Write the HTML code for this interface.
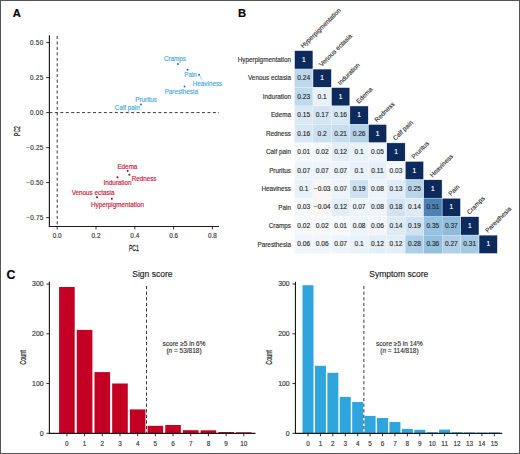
<!DOCTYPE html>
<html><head><meta charset="utf-8"><style>
html,body{margin:0;padding:0;background:#fff;}
body{width:520px;height:454px;overflow:hidden;}
svg{display:block;font-family:"Liberation Sans", sans-serif;}
</style></head><body>
<svg width="520" height="454" viewBox="0 0 520 454">
<rect x="0" y="0" width="520" height="454" fill="#ffffff"/>
<text x="12.80" y="17.00" font-size="11.2" fill="#000" stroke="#000" stroke-width="0.15" text-anchor="start" font-weight="bold">A</text>
<text x="238.00" y="17.00" font-size="11.2" fill="#000" stroke="#000" stroke-width="0.15" text-anchor="start" font-weight="bold">B</text>
<text x="6.50" y="279.10" font-size="12.4" fill="#000" stroke="#000" stroke-width="0.15" text-anchor="start" font-weight="bold">C</text>
<line x1="49.40" y1="35.20" x2="49.40" y2="226.95" stroke="#1a1a1a" stroke-width="1.15" />
<line x1="48.90" y1="226.45" x2="219.00" y2="226.45" stroke="#1a1a1a" stroke-width="1.15" />
<line x1="46.20" y1="42.60" x2="49.40" y2="42.60" stroke="#1a1a1a" stroke-width="0.9" />
<text x="43.20" y="44.80" font-size="6.4" fill="#333333" stroke="#333333" stroke-width="0.15" text-anchor="end" textLength="13.2">0.50</text>
<line x1="46.20" y1="77.60" x2="49.40" y2="77.60" stroke="#1a1a1a" stroke-width="0.9" />
<text x="43.20" y="79.80" font-size="6.4" fill="#333333" stroke="#333333" stroke-width="0.15" text-anchor="end" textLength="13.2">0.25</text>
<line x1="46.20" y1="112.60" x2="49.40" y2="112.60" stroke="#1a1a1a" stroke-width="0.9" />
<text x="43.20" y="114.80" font-size="6.4" fill="#333333" stroke="#333333" stroke-width="0.15" text-anchor="end" textLength="13.2">0.00</text>
<line x1="46.20" y1="147.60" x2="49.40" y2="147.60" stroke="#1a1a1a" stroke-width="0.9" />
<text x="43.20" y="149.80" font-size="6.4" fill="#333333" stroke="#333333" stroke-width="0.15" text-anchor="end" textLength="17.0">−0.25</text>
<line x1="46.20" y1="182.60" x2="49.40" y2="182.60" stroke="#1a1a1a" stroke-width="0.9" />
<text x="43.20" y="184.80" font-size="6.4" fill="#333333" stroke="#333333" stroke-width="0.15" text-anchor="end" textLength="17.0">−0.50</text>
<line x1="46.20" y1="217.60" x2="49.40" y2="217.60" stroke="#1a1a1a" stroke-width="0.9" />
<text x="43.20" y="219.80" font-size="6.4" fill="#333333" stroke="#333333" stroke-width="0.15" text-anchor="end" textLength="17.0">−0.75</text>
<line x1="57.20" y1="226.45" x2="57.20" y2="229.45" stroke="#1a1a1a" stroke-width="0.9" />
<text x="57.20" y="238.20" font-size="6.4" fill="#333333" stroke="#333333" stroke-width="0.15" text-anchor="middle" >0.0</text>
<line x1="96.00" y1="226.45" x2="96.00" y2="229.45" stroke="#1a1a1a" stroke-width="0.9" />
<text x="96.00" y="238.20" font-size="6.4" fill="#333333" stroke="#333333" stroke-width="0.15" text-anchor="middle" >0.2</text>
<line x1="134.80" y1="226.45" x2="134.80" y2="229.45" stroke="#1a1a1a" stroke-width="0.9" />
<text x="134.80" y="238.20" font-size="6.4" fill="#333333" stroke="#333333" stroke-width="0.15" text-anchor="middle" >0.4</text>
<line x1="173.60" y1="226.45" x2="173.60" y2="229.45" stroke="#1a1a1a" stroke-width="0.9" />
<text x="173.60" y="238.20" font-size="6.4" fill="#333333" stroke="#333333" stroke-width="0.15" text-anchor="middle" >0.6</text>
<line x1="212.40" y1="226.45" x2="212.40" y2="229.45" stroke="#1a1a1a" stroke-width="0.9" />
<text x="212.40" y="238.20" font-size="6.4" fill="#333333" stroke="#333333" stroke-width="0.15" text-anchor="middle" >0.8</text>
<line x1="57.20" y1="36.00" x2="57.20" y2="226.45" stroke="#222" stroke-width="0.9" stroke-dasharray="3.0 2.45"/>
<line x1="49.40" y1="112.60" x2="219.00" y2="112.60" stroke="#222" stroke-width="0.9" stroke-dasharray="3.0 2.45"/>
<text x="0" y="0" font-size="8.4" fill="#222" stroke="#222" stroke-width="0.25" text-anchor="middle" transform="translate(133.9 250.7) scale(0.6 1)">PC1</text>
<text x="0" y="0" font-size="8.4" fill="#222" stroke="#222" stroke-width="0.25" text-anchor="middle" transform="translate(19.9 131) rotate(-90) scale(0.6 1)">PC2</text>
<circle cx="177.90" cy="64.10" r="1.0" fill="#3a6a8c"/>
<circle cx="187.60" cy="69.70" r="1.0" fill="#3a6a8c"/>
<circle cx="199.00" cy="74.80" r="1.0" fill="#3a6a8c"/>
<circle cx="184.50" cy="86.40" r="1.0" fill="#3a6a8c"/>
<circle cx="141.00" cy="104.60" r="1.0" fill="#3a6a8c"/>
<line x1="199.30" y1="75.00" x2="201.90" y2="79.40" stroke="#45a8e0" stroke-width="0.6" />
<text x="175.00" y="61.00" font-size="6.3" fill="#45a8e0" stroke="#45a8e0" stroke-width="0.15" text-anchor="middle" >Cramps</text>
<text x="190.50" y="76.70" font-size="6.3" fill="#45a8e0" stroke="#45a8e0" stroke-width="0.15" text-anchor="middle" >Pain</text>
<text x="207.50" y="85.50" font-size="6.3" fill="#45a8e0" stroke="#45a8e0" stroke-width="0.15" text-anchor="middle" >Heaviness</text>
<text x="181.30" y="94.20" font-size="6.3" fill="#45a8e0" stroke="#45a8e0" stroke-width="0.15" text-anchor="middle" >Paresthesia</text>
<text x="146.10" y="101.60" font-size="6.3" fill="#45a8e0" stroke="#45a8e0" stroke-width="0.15" text-anchor="middle" >Pruritus</text>
<text x="127.30" y="109.70" font-size="6.3" fill="#45a8e0" stroke="#45a8e0" stroke-width="0.15" text-anchor="middle" >Calf pain</text>
<circle cx="127.70" cy="170.90" r="1.0" fill="#7a1028"/>
<circle cx="129.40" cy="174.70" r="1.0" fill="#7a1028"/>
<circle cx="117.50" cy="177.20" r="1.0" fill="#7a1028"/>
<circle cx="97.00" cy="197.30" r="1.0" fill="#7a1028"/>
<circle cx="111.80" cy="198.80" r="1.0" fill="#7a1028"/>
<text x="127.40" y="168.80" font-size="6.3" fill="#c8143a" stroke="#c8143a" stroke-width="0.15" text-anchor="middle" >Edema</text>
<text x="144.10" y="180.50" font-size="6.3" fill="#c8143a" stroke="#c8143a" stroke-width="0.15" text-anchor="middle" >Redness</text>
<text x="117.50" y="185.10" font-size="6.3" fill="#c8143a" stroke="#c8143a" stroke-width="0.15" text-anchor="middle" >Induration</text>
<text x="93.10" y="194.90" font-size="6.3" fill="#c8143a" stroke="#c8143a" stroke-width="0.15" text-anchor="middle" >Venous ectasia</text>
<text x="117.50" y="206.90" font-size="6.3" fill="#c8143a" stroke="#c8143a" stroke-width="0.15" text-anchor="middle" >Hyperpigmentation</text>
<rect x="294.50" y="50.60" width="18.45" height="18.45" fill="#0c2a5c" stroke="#ffffff" stroke-width="0.5"/>
<rect x="294.50" y="69.05" width="18.45" height="18.45" fill="#bcd7eb" stroke="#ffffff" stroke-width="0.2"/>
<rect x="312.95" y="69.05" width="18.45" height="18.45" fill="#0c2a5c" stroke="#ffffff" stroke-width="0.5"/>
<rect x="294.50" y="87.50" width="18.45" height="18.45" fill="#c0d9ec" stroke="#ffffff" stroke-width="0.2"/>
<rect x="312.95" y="87.50" width="18.45" height="18.45" fill="#eaf2f9" stroke="#ffffff" stroke-width="0.2"/>
<rect x="331.40" y="87.50" width="18.45" height="18.45" fill="#0c2a5c" stroke="#ffffff" stroke-width="0.5"/>
<rect x="294.50" y="105.95" width="18.45" height="18.45" fill="#dbe9f4" stroke="#ffffff" stroke-width="0.2"/>
<rect x="312.95" y="105.95" width="18.45" height="18.45" fill="#d5e5f3" stroke="#ffffff" stroke-width="0.2"/>
<rect x="331.40" y="105.95" width="18.45" height="18.45" fill="#d8e7f4" stroke="#ffffff" stroke-width="0.2"/>
<rect x="349.85" y="105.95" width="18.45" height="18.45" fill="#0c2a5c" stroke="#ffffff" stroke-width="0.5"/>
<rect x="294.50" y="124.40" width="18.45" height="18.45" fill="#d8e7f4" stroke="#ffffff" stroke-width="0.2"/>
<rect x="312.95" y="124.40" width="18.45" height="18.45" fill="#cce0f0" stroke="#ffffff" stroke-width="0.2"/>
<rect x="331.40" y="124.40" width="18.45" height="18.45" fill="#c8deef" stroke="#ffffff" stroke-width="0.2"/>
<rect x="349.85" y="124.40" width="18.45" height="18.45" fill="#b4d2e8" stroke="#ffffff" stroke-width="0.2"/>
<rect x="368.30" y="124.40" width="18.45" height="18.45" fill="#0c2a5c" stroke="#ffffff" stroke-width="0.5"/>
<rect x="294.50" y="142.85" width="18.45" height="18.45" fill="#f7fafd" stroke="#ffffff" stroke-width="0.2"/>
<rect x="312.95" y="142.85" width="18.45" height="18.45" fill="#f5f9fc" stroke="#ffffff" stroke-width="0.2"/>
<rect x="331.40" y="142.85" width="18.45" height="18.45" fill="#e4eef7" stroke="#ffffff" stroke-width="0.2"/>
<rect x="349.85" y="142.85" width="18.45" height="18.45" fill="#eaf2f9" stroke="#ffffff" stroke-width="0.2"/>
<rect x="368.30" y="142.85" width="18.45" height="18.45" fill="#f1f6fb" stroke="#ffffff" stroke-width="0.2"/>
<rect x="386.75" y="142.85" width="18.45" height="18.45" fill="#0c2a5c" stroke="#ffffff" stroke-width="0.5"/>
<rect x="294.50" y="161.30" width="18.45" height="18.45" fill="#eef5fa" stroke="#ffffff" stroke-width="0.2"/>
<rect x="312.95" y="161.30" width="18.45" height="18.45" fill="#eef5fa" stroke="#ffffff" stroke-width="0.2"/>
<rect x="331.40" y="161.30" width="18.45" height="18.45" fill="#eef5fa" stroke="#ffffff" stroke-width="0.2"/>
<rect x="349.85" y="161.30" width="18.45" height="18.45" fill="#eaf2f9" stroke="#ffffff" stroke-width="0.2"/>
<rect x="368.30" y="161.30" width="18.45" height="18.45" fill="#e7f0f8" stroke="#ffffff" stroke-width="0.2"/>
<rect x="386.75" y="161.30" width="18.45" height="18.45" fill="#f4f8fc" stroke="#ffffff" stroke-width="0.2"/>
<rect x="405.20" y="161.30" width="18.45" height="18.45" fill="#0c2a5c" stroke="#ffffff" stroke-width="0.5"/>
<rect x="294.50" y="179.75" width="18.45" height="18.45" fill="#eaf2f9" stroke="#ffffff" stroke-width="0.2"/>
<rect x="312.95" y="179.75" width="18.45" height="18.45" fill="#f8f6f6" stroke="#ffffff" stroke-width="0.2"/>
<rect x="331.40" y="179.75" width="18.45" height="18.45" fill="#eef5fa" stroke="#ffffff" stroke-width="0.2"/>
<rect x="349.85" y="179.75" width="18.45" height="18.45" fill="#cfe2f1" stroke="#ffffff" stroke-width="0.2"/>
<rect x="368.30" y="179.75" width="18.45" height="18.45" fill="#edf4fa" stroke="#ffffff" stroke-width="0.2"/>
<rect x="386.75" y="179.75" width="18.45" height="18.45" fill="#e1edf6" stroke="#ffffff" stroke-width="0.2"/>
<rect x="405.20" y="179.75" width="18.45" height="18.45" fill="#b8d5ea" stroke="#ffffff" stroke-width="0.2"/>
<rect x="423.65" y="179.75" width="18.45" height="18.45" fill="#0c2a5c" stroke="#ffffff" stroke-width="0.5"/>
<rect x="294.50" y="198.20" width="18.45" height="18.45" fill="#f4f8fc" stroke="#ffffff" stroke-width="0.2"/>
<rect x="312.95" y="198.20" width="18.45" height="18.45" fill="#f8f5f3" stroke="#ffffff" stroke-width="0.2"/>
<rect x="331.40" y="198.20" width="18.45" height="18.45" fill="#e4eef7" stroke="#ffffff" stroke-width="0.2"/>
<rect x="349.85" y="198.20" width="18.45" height="18.45" fill="#eef5fa" stroke="#ffffff" stroke-width="0.2"/>
<rect x="368.30" y="198.20" width="18.45" height="18.45" fill="#edf4fa" stroke="#ffffff" stroke-width="0.2"/>
<rect x="386.75" y="198.20" width="18.45" height="18.45" fill="#d2e4f2" stroke="#ffffff" stroke-width="0.2"/>
<rect x="405.20" y="198.20" width="18.45" height="18.45" fill="#deebf5" stroke="#ffffff" stroke-width="0.2"/>
<rect x="423.65" y="198.20" width="18.45" height="18.45" fill="#4c82b4" stroke="#ffffff" stroke-width="0.2"/>
<rect x="442.10" y="198.20" width="18.45" height="18.45" fill="#0c2a5c" stroke="#ffffff" stroke-width="0.5"/>
<rect x="294.50" y="216.65" width="18.45" height="18.45" fill="#f5f9fc" stroke="#ffffff" stroke-width="0.2"/>
<rect x="312.95" y="216.65" width="18.45" height="18.45" fill="#f5f9fc" stroke="#ffffff" stroke-width="0.2"/>
<rect x="331.40" y="216.65" width="18.45" height="18.45" fill="#f7fafd" stroke="#ffffff" stroke-width="0.2"/>
<rect x="349.85" y="216.65" width="18.45" height="18.45" fill="#edf4fa" stroke="#ffffff" stroke-width="0.2"/>
<rect x="368.30" y="216.65" width="18.45" height="18.45" fill="#f0f6fb" stroke="#ffffff" stroke-width="0.2"/>
<rect x="386.75" y="216.65" width="18.45" height="18.45" fill="#deebf5" stroke="#ffffff" stroke-width="0.2"/>
<rect x="405.20" y="216.65" width="18.45" height="18.45" fill="#cfe2f1" stroke="#ffffff" stroke-width="0.2"/>
<rect x="423.65" y="216.65" width="18.45" height="18.45" fill="#97c2e1" stroke="#ffffff" stroke-width="0.2"/>
<rect x="442.10" y="216.65" width="18.45" height="18.45" fill="#8fbcdd" stroke="#ffffff" stroke-width="0.2"/>
<rect x="460.55" y="216.65" width="18.45" height="18.45" fill="#0c2a5c" stroke="#ffffff" stroke-width="0.5"/>
<rect x="294.50" y="235.10" width="18.45" height="18.45" fill="#f0f6fb" stroke="#ffffff" stroke-width="0.2"/>
<rect x="312.95" y="235.10" width="18.45" height="18.45" fill="#f0f6fb" stroke="#ffffff" stroke-width="0.2"/>
<rect x="331.40" y="235.10" width="18.45" height="18.45" fill="#eef5fa" stroke="#ffffff" stroke-width="0.2"/>
<rect x="349.85" y="235.10" width="18.45" height="18.45" fill="#eaf2f9" stroke="#ffffff" stroke-width="0.2"/>
<rect x="368.30" y="235.10" width="18.45" height="18.45" fill="#e4eef7" stroke="#ffffff" stroke-width="0.2"/>
<rect x="386.75" y="235.10" width="18.45" height="18.45" fill="#e4eef7" stroke="#ffffff" stroke-width="0.2"/>
<rect x="405.20" y="235.10" width="18.45" height="18.45" fill="#accee6" stroke="#ffffff" stroke-width="0.2"/>
<rect x="423.65" y="235.10" width="18.45" height="18.45" fill="#94c0e0" stroke="#ffffff" stroke-width="0.2"/>
<rect x="442.10" y="235.10" width="18.45" height="18.45" fill="#b0d0e7" stroke="#ffffff" stroke-width="0.2"/>
<rect x="460.55" y="235.10" width="18.45" height="18.45" fill="#a3c9e4" stroke="#ffffff" stroke-width="0.2"/>
<rect x="479.00" y="235.10" width="18.45" height="18.45" fill="#0c2a5c" stroke="#ffffff" stroke-width="0.5"/>
<text x="303.73" y="61.83" font-size="6.6" fill="#ffffff" stroke="#ffffff" stroke-width="0.15" text-anchor="middle" >1</text>
<text x="303.73" y="80.28" font-size="6.6" fill="#2b2b2b" stroke="#2b2b2b" stroke-width="0.15" text-anchor="middle" >0.24</text>
<text x="322.18" y="80.28" font-size="6.6" fill="#ffffff" stroke="#ffffff" stroke-width="0.15" text-anchor="middle" >1</text>
<text x="303.73" y="98.72" font-size="6.6" fill="#2b2b2b" stroke="#2b2b2b" stroke-width="0.15" text-anchor="middle" >0.23</text>
<text x="322.18" y="98.72" font-size="6.6" fill="#2b2b2b" stroke="#2b2b2b" stroke-width="0.15" text-anchor="middle" >0.1</text>
<text x="340.62" y="98.72" font-size="6.6" fill="#ffffff" stroke="#ffffff" stroke-width="0.15" text-anchor="middle" >1</text>
<text x="303.73" y="117.18" font-size="6.6" fill="#2b2b2b" stroke="#2b2b2b" stroke-width="0.15" text-anchor="middle" >0.15</text>
<text x="322.18" y="117.18" font-size="6.6" fill="#2b2b2b" stroke="#2b2b2b" stroke-width="0.15" text-anchor="middle" >0.17</text>
<text x="340.62" y="117.18" font-size="6.6" fill="#2b2b2b" stroke="#2b2b2b" stroke-width="0.15" text-anchor="middle" >0.16</text>
<text x="359.07" y="117.18" font-size="6.6" fill="#ffffff" stroke="#ffffff" stroke-width="0.15" text-anchor="middle" >1</text>
<text x="303.73" y="135.62" font-size="6.6" fill="#2b2b2b" stroke="#2b2b2b" stroke-width="0.15" text-anchor="middle" >0.16</text>
<text x="322.18" y="135.62" font-size="6.6" fill="#2b2b2b" stroke="#2b2b2b" stroke-width="0.15" text-anchor="middle" >0.2</text>
<text x="340.62" y="135.62" font-size="6.6" fill="#2b2b2b" stroke="#2b2b2b" stroke-width="0.15" text-anchor="middle" >0.21</text>
<text x="359.07" y="135.62" font-size="6.6" fill="#2b2b2b" stroke="#2b2b2b" stroke-width="0.15" text-anchor="middle" >0.26</text>
<text x="377.52" y="135.62" font-size="6.6" fill="#ffffff" stroke="#ffffff" stroke-width="0.15" text-anchor="middle" >1</text>
<text x="303.73" y="154.07" font-size="6.6" fill="#2b2b2b" stroke="#2b2b2b" stroke-width="0.15" text-anchor="middle" >0.01</text>
<text x="322.18" y="154.07" font-size="6.6" fill="#2b2b2b" stroke="#2b2b2b" stroke-width="0.15" text-anchor="middle" >0.02</text>
<text x="340.62" y="154.07" font-size="6.6" fill="#2b2b2b" stroke="#2b2b2b" stroke-width="0.15" text-anchor="middle" >0.12</text>
<text x="359.07" y="154.07" font-size="6.6" fill="#2b2b2b" stroke="#2b2b2b" stroke-width="0.15" text-anchor="middle" >0.1</text>
<text x="377.52" y="154.07" font-size="6.6" fill="#2b2b2b" stroke="#2b2b2b" stroke-width="0.15" text-anchor="middle" >0.05</text>
<text x="395.98" y="154.07" font-size="6.6" fill="#ffffff" stroke="#ffffff" stroke-width="0.15" text-anchor="middle" >1</text>
<text x="303.73" y="172.53" font-size="6.6" fill="#2b2b2b" stroke="#2b2b2b" stroke-width="0.15" text-anchor="middle" >0.07</text>
<text x="322.18" y="172.53" font-size="6.6" fill="#2b2b2b" stroke="#2b2b2b" stroke-width="0.15" text-anchor="middle" >0.07</text>
<text x="340.62" y="172.53" font-size="6.6" fill="#2b2b2b" stroke="#2b2b2b" stroke-width="0.15" text-anchor="middle" >0.07</text>
<text x="359.07" y="172.53" font-size="6.6" fill="#2b2b2b" stroke="#2b2b2b" stroke-width="0.15" text-anchor="middle" >0.1</text>
<text x="377.52" y="172.53" font-size="6.6" fill="#2b2b2b" stroke="#2b2b2b" stroke-width="0.15" text-anchor="middle" >0.11</text>
<text x="395.98" y="172.53" font-size="6.6" fill="#2b2b2b" stroke="#2b2b2b" stroke-width="0.15" text-anchor="middle" >0.03</text>
<text x="414.43" y="172.53" font-size="6.6" fill="#ffffff" stroke="#ffffff" stroke-width="0.15" text-anchor="middle" >1</text>
<text x="303.73" y="190.97" font-size="6.6" fill="#2b2b2b" stroke="#2b2b2b" stroke-width="0.15" text-anchor="middle" >0.1</text>
<text x="322.18" y="190.97" font-size="6.6" fill="#2b2b2b" stroke="#2b2b2b" stroke-width="0.15" text-anchor="middle" >−0.03</text>
<text x="340.62" y="190.97" font-size="6.6" fill="#2b2b2b" stroke="#2b2b2b" stroke-width="0.15" text-anchor="middle" >0.07</text>
<text x="359.07" y="190.97" font-size="6.6" fill="#2b2b2b" stroke="#2b2b2b" stroke-width="0.15" text-anchor="middle" >0.19</text>
<text x="377.52" y="190.97" font-size="6.6" fill="#2b2b2b" stroke="#2b2b2b" stroke-width="0.15" text-anchor="middle" >0.08</text>
<text x="395.98" y="190.97" font-size="6.6" fill="#2b2b2b" stroke="#2b2b2b" stroke-width="0.15" text-anchor="middle" >0.13</text>
<text x="414.43" y="190.97" font-size="6.6" fill="#2b2b2b" stroke="#2b2b2b" stroke-width="0.15" text-anchor="middle" >0.25</text>
<text x="432.88" y="190.97" font-size="6.6" fill="#ffffff" stroke="#ffffff" stroke-width="0.15" text-anchor="middle" >1</text>
<text x="303.73" y="209.42" font-size="6.6" fill="#2b2b2b" stroke="#2b2b2b" stroke-width="0.15" text-anchor="middle" >0.03</text>
<text x="322.18" y="209.42" font-size="6.6" fill="#2b2b2b" stroke="#2b2b2b" stroke-width="0.15" text-anchor="middle" >−0.04</text>
<text x="340.62" y="209.42" font-size="6.6" fill="#2b2b2b" stroke="#2b2b2b" stroke-width="0.15" text-anchor="middle" >0.12</text>
<text x="359.07" y="209.42" font-size="6.6" fill="#2b2b2b" stroke="#2b2b2b" stroke-width="0.15" text-anchor="middle" >0.07</text>
<text x="377.52" y="209.42" font-size="6.6" fill="#2b2b2b" stroke="#2b2b2b" stroke-width="0.15" text-anchor="middle" >0.08</text>
<text x="395.98" y="209.42" font-size="6.6" fill="#2b2b2b" stroke="#2b2b2b" stroke-width="0.15" text-anchor="middle" >0.18</text>
<text x="414.43" y="209.42" font-size="6.6" fill="#2b2b2b" stroke="#2b2b2b" stroke-width="0.15" text-anchor="middle" >0.14</text>
<text x="432.88" y="209.42" font-size="6.6" fill="#2b2b2b" stroke="#2b2b2b" stroke-width="0.15" text-anchor="middle" >0.51</text>
<text x="451.32" y="209.42" font-size="6.6" fill="#ffffff" stroke="#ffffff" stroke-width="0.15" text-anchor="middle" >1</text>
<text x="303.73" y="227.88" font-size="6.6" fill="#2b2b2b" stroke="#2b2b2b" stroke-width="0.15" text-anchor="middle" >0.02</text>
<text x="322.18" y="227.88" font-size="6.6" fill="#2b2b2b" stroke="#2b2b2b" stroke-width="0.15" text-anchor="middle" >0.02</text>
<text x="340.62" y="227.88" font-size="6.6" fill="#2b2b2b" stroke="#2b2b2b" stroke-width="0.15" text-anchor="middle" >0.01</text>
<text x="359.07" y="227.88" font-size="6.6" fill="#2b2b2b" stroke="#2b2b2b" stroke-width="0.15" text-anchor="middle" >0.08</text>
<text x="377.52" y="227.88" font-size="6.6" fill="#2b2b2b" stroke="#2b2b2b" stroke-width="0.15" text-anchor="middle" >0.06</text>
<text x="395.98" y="227.88" font-size="6.6" fill="#2b2b2b" stroke="#2b2b2b" stroke-width="0.15" text-anchor="middle" >0.14</text>
<text x="414.43" y="227.88" font-size="6.6" fill="#2b2b2b" stroke="#2b2b2b" stroke-width="0.15" text-anchor="middle" >0.19</text>
<text x="432.88" y="227.88" font-size="6.6" fill="#2b2b2b" stroke="#2b2b2b" stroke-width="0.15" text-anchor="middle" >0.35</text>
<text x="451.32" y="227.88" font-size="6.6" fill="#2b2b2b" stroke="#2b2b2b" stroke-width="0.15" text-anchor="middle" >0.37</text>
<text x="469.77" y="227.88" font-size="6.6" fill="#ffffff" stroke="#ffffff" stroke-width="0.15" text-anchor="middle" >1</text>
<text x="303.73" y="246.32" font-size="6.6" fill="#2b2b2b" stroke="#2b2b2b" stroke-width="0.15" text-anchor="middle" >0.06</text>
<text x="322.18" y="246.32" font-size="6.6" fill="#2b2b2b" stroke="#2b2b2b" stroke-width="0.15" text-anchor="middle" >0.06</text>
<text x="340.62" y="246.32" font-size="6.6" fill="#2b2b2b" stroke="#2b2b2b" stroke-width="0.15" text-anchor="middle" >0.07</text>
<text x="359.07" y="246.32" font-size="6.6" fill="#2b2b2b" stroke="#2b2b2b" stroke-width="0.15" text-anchor="middle" >0.1</text>
<text x="377.52" y="246.32" font-size="6.6" fill="#2b2b2b" stroke="#2b2b2b" stroke-width="0.15" text-anchor="middle" >0.12</text>
<text x="395.98" y="246.32" font-size="6.6" fill="#2b2b2b" stroke="#2b2b2b" stroke-width="0.15" text-anchor="middle" >0.12</text>
<text x="414.43" y="246.32" font-size="6.6" fill="#2b2b2b" stroke="#2b2b2b" stroke-width="0.15" text-anchor="middle" >0.28</text>
<text x="432.88" y="246.32" font-size="6.6" fill="#2b2b2b" stroke="#2b2b2b" stroke-width="0.15" text-anchor="middle" >0.36</text>
<text x="451.32" y="246.32" font-size="6.6" fill="#2b2b2b" stroke="#2b2b2b" stroke-width="0.15" text-anchor="middle" >0.27</text>
<text x="469.77" y="246.32" font-size="6.6" fill="#2b2b2b" stroke="#2b2b2b" stroke-width="0.15" text-anchor="middle" >0.31</text>
<text x="488.23" y="246.32" font-size="6.6" fill="#ffffff" stroke="#ffffff" stroke-width="0.15" text-anchor="middle" >1</text>
<text x="291.00" y="62.03" font-size="6.35" fill="#333333" stroke="#333333" stroke-width="0.15" text-anchor="end" >Hyperpigmentation</text>
<text x="291.00" y="80.48" font-size="6.35" fill="#333333" stroke="#333333" stroke-width="0.15" text-anchor="end" >Venous ectasia</text>
<text x="291.00" y="98.92" font-size="6.35" fill="#333333" stroke="#333333" stroke-width="0.15" text-anchor="end" >Induration</text>
<text x="291.00" y="117.38" font-size="6.35" fill="#333333" stroke="#333333" stroke-width="0.15" text-anchor="end" >Edema</text>
<text x="291.00" y="135.82" font-size="6.35" fill="#333333" stroke="#333333" stroke-width="0.15" text-anchor="end" >Redness</text>
<text x="291.00" y="154.27" font-size="6.35" fill="#333333" stroke="#333333" stroke-width="0.15" text-anchor="end" >Calf pain</text>
<text x="291.00" y="172.72" font-size="6.35" fill="#333333" stroke="#333333" stroke-width="0.15" text-anchor="end" >Pruritus</text>
<text x="291.00" y="191.17" font-size="6.35" fill="#333333" stroke="#333333" stroke-width="0.15" text-anchor="end" >Heaviness</text>
<text x="291.00" y="209.62" font-size="6.35" fill="#333333" stroke="#333333" stroke-width="0.15" text-anchor="end" >Pain</text>
<text x="291.00" y="228.07" font-size="6.35" fill="#333333" stroke="#333333" stroke-width="0.15" text-anchor="end" >Cramps</text>
<text x="291.00" y="246.52" font-size="6.35" fill="#333333" stroke="#333333" stroke-width="0.15" text-anchor="end" >Paresthesia</text>
<text x="0" y="0" font-size="6.4" fill="#333333" stroke="#333333" stroke-width="0.15" transform="translate(303.33 48.60) rotate(-45)">Hyperpigmentation</text>
<text x="0" y="0" font-size="6.4" fill="#333333" stroke="#333333" stroke-width="0.15" transform="translate(321.78 67.05) rotate(-45)">Venous ectasia</text>
<text x="0" y="0" font-size="6.4" fill="#333333" stroke="#333333" stroke-width="0.15" transform="translate(340.23 85.50) rotate(-45)">Induration</text>
<text x="0" y="0" font-size="6.4" fill="#333333" stroke="#333333" stroke-width="0.15" transform="translate(358.68 103.95) rotate(-45)">Edema</text>
<text x="0" y="0" font-size="6.4" fill="#333333" stroke="#333333" stroke-width="0.15" transform="translate(377.12 122.40) rotate(-45)">Redness</text>
<text x="0" y="0" font-size="6.4" fill="#333333" stroke="#333333" stroke-width="0.15" transform="translate(395.58 140.85) rotate(-45)">Calf pain</text>
<text x="0" y="0" font-size="6.4" fill="#333333" stroke="#333333" stroke-width="0.15" transform="translate(414.03 159.30) rotate(-45)">Pruritus</text>
<text x="0" y="0" font-size="6.4" fill="#333333" stroke="#333333" stroke-width="0.15" transform="translate(432.48 177.75) rotate(-45)">Heaviness</text>
<text x="0" y="0" font-size="6.4" fill="#333333" stroke="#333333" stroke-width="0.15" transform="translate(450.93 196.20) rotate(-45)">Pain</text>
<text x="0" y="0" font-size="6.4" fill="#333333" stroke="#333333" stroke-width="0.15" transform="translate(469.38 214.65) rotate(-45)">Cramps</text>
<text x="0" y="0" font-size="6.4" fill="#333333" stroke="#333333" stroke-width="0.15" transform="translate(487.83 233.10) rotate(-45)">Paresthesia</text>
<rect x="59.10" y="287.00" width="15.60" height="146.30" fill="#c30024" />
<rect x="76.79" y="329.90" width="15.60" height="103.40" fill="#c30024" />
<rect x="94.48" y="372.10" width="15.60" height="61.20" fill="#c30024" />
<rect x="112.17" y="383.50" width="15.60" height="49.80" fill="#c30024" />
<rect x="129.86" y="409.40" width="15.60" height="23.90" fill="#c30024" />
<rect x="147.55" y="425.80" width="15.60" height="7.50" fill="#c30024" />
<rect x="165.24" y="425.00" width="15.60" height="8.30" fill="#c30024" />
<rect x="182.93" y="430.20" width="15.60" height="3.10" fill="#c30024" />
<rect x="200.62" y="430.30" width="15.60" height="3.00" fill="#c30024" />
<rect x="218.31" y="432.00" width="15.60" height="1.30" fill="#c30024" />
<rect x="236.00" y="432.30" width="15.60" height="1.00" fill="#c30024" />
<line x1="49.40" y1="281.80" x2="49.40" y2="433.80" stroke="#1a1a1a" stroke-width="1.15" />
<line x1="48.90" y1="433.30" x2="255.50" y2="433.30" stroke="#1a1a1a" stroke-width="1.15" />
<line x1="46.40" y1="433.30" x2="49.40" y2="433.30" stroke="#1a1a1a" stroke-width="0.9" />
<text x="43.60" y="435.70" font-size="6.9" fill="#333333" stroke="#333333" stroke-width="0.15" text-anchor="end" >0</text>
<line x1="46.40" y1="383.55" x2="49.40" y2="383.55" stroke="#1a1a1a" stroke-width="0.9" />
<text x="43.60" y="385.95" font-size="6.9" fill="#333333" stroke="#333333" stroke-width="0.15" text-anchor="end" >100</text>
<line x1="46.40" y1="333.80" x2="49.40" y2="333.80" stroke="#1a1a1a" stroke-width="0.9" />
<text x="43.60" y="336.20" font-size="6.9" fill="#333333" stroke="#333333" stroke-width="0.15" text-anchor="end" >200</text>
<line x1="46.40" y1="284.05" x2="49.40" y2="284.05" stroke="#1a1a1a" stroke-width="0.9" />
<text x="43.60" y="286.45" font-size="6.9" fill="#333333" stroke="#333333" stroke-width="0.15" text-anchor="end" >300</text>
<line x1="66.90" y1="433.30" x2="66.90" y2="436.30" stroke="#1a1a1a" stroke-width="0.9" />
<text x="66.90" y="445.60" font-size="6.4" fill="#333333" stroke="#333333" stroke-width="0.15" text-anchor="middle" >0</text>
<line x1="84.59" y1="433.30" x2="84.59" y2="436.30" stroke="#1a1a1a" stroke-width="0.9" />
<text x="84.59" y="445.60" font-size="6.4" fill="#333333" stroke="#333333" stroke-width="0.15" text-anchor="middle" >1</text>
<line x1="102.28" y1="433.30" x2="102.28" y2="436.30" stroke="#1a1a1a" stroke-width="0.9" />
<text x="102.28" y="445.60" font-size="6.4" fill="#333333" stroke="#333333" stroke-width="0.15" text-anchor="middle" >2</text>
<line x1="119.97" y1="433.30" x2="119.97" y2="436.30" stroke="#1a1a1a" stroke-width="0.9" />
<text x="119.97" y="445.60" font-size="6.4" fill="#333333" stroke="#333333" stroke-width="0.15" text-anchor="middle" >3</text>
<line x1="137.66" y1="433.30" x2="137.66" y2="436.30" stroke="#1a1a1a" stroke-width="0.9" />
<text x="137.66" y="445.60" font-size="6.4" fill="#333333" stroke="#333333" stroke-width="0.15" text-anchor="middle" >4</text>
<line x1="155.35" y1="433.30" x2="155.35" y2="436.30" stroke="#1a1a1a" stroke-width="0.9" />
<text x="155.35" y="445.60" font-size="6.4" fill="#333333" stroke="#333333" stroke-width="0.15" text-anchor="middle" >5</text>
<line x1="173.04" y1="433.30" x2="173.04" y2="436.30" stroke="#1a1a1a" stroke-width="0.9" />
<text x="173.04" y="445.60" font-size="6.4" fill="#333333" stroke="#333333" stroke-width="0.15" text-anchor="middle" >6</text>
<line x1="190.73" y1="433.30" x2="190.73" y2="436.30" stroke="#1a1a1a" stroke-width="0.9" />
<text x="190.73" y="445.60" font-size="6.4" fill="#333333" stroke="#333333" stroke-width="0.15" text-anchor="middle" >7</text>
<line x1="208.42" y1="433.30" x2="208.42" y2="436.30" stroke="#1a1a1a" stroke-width="0.9" />
<text x="208.42" y="445.60" font-size="6.4" fill="#333333" stroke="#333333" stroke-width="0.15" text-anchor="middle" >8</text>
<line x1="226.11" y1="433.30" x2="226.11" y2="436.30" stroke="#1a1a1a" stroke-width="0.9" />
<text x="226.11" y="445.60" font-size="6.4" fill="#333333" stroke="#333333" stroke-width="0.15" text-anchor="middle" >9</text>
<line x1="243.80" y1="433.30" x2="243.80" y2="436.30" stroke="#1a1a1a" stroke-width="0.9" />
<text x="243.80" y="445.60" font-size="6.4" fill="#333333" stroke="#333333" stroke-width="0.15" text-anchor="middle" >10</text>
<line x1="146.50" y1="286.00" x2="146.50" y2="433.30" stroke="#222" stroke-width="0.9" stroke-dasharray="3.2 2.4"/>
<text x="152.40" y="276.60" font-size="8.5" fill="#222" stroke="#222" stroke-width="0.15" text-anchor="middle" >Sign score</text>
<text x="184.00" y="345.80" font-size="6.5" fill="#333333" stroke="#333333" stroke-width="0.15" text-anchor="middle" >score ≥5 in 6%</text>
<text x="184.00" y="352.80" font-size="6.5" fill="#333333" stroke="#333333" stroke-width="0.15" text-anchor="middle" >(<tspan font-style="italic">n</tspan> = 53/818)</text>
<text x="0" y="0" font-size="8.6" fill="#222" stroke="#222" stroke-width="0.2" text-anchor="middle" transform="translate(25.90 357.5) rotate(-90) scale(0.64 1)">Count</text>
<rect x="302.50" y="285.20" width="11.00" height="148.10" fill="#2fa5dd" />
<rect x="314.92" y="365.80" width="11.00" height="67.50" fill="#2fa5dd" />
<rect x="327.34" y="372.80" width="11.00" height="60.50" fill="#2fa5dd" />
<rect x="339.76" y="396.90" width="11.00" height="36.40" fill="#2fa5dd" />
<rect x="352.18" y="402.00" width="11.00" height="31.30" fill="#2fa5dd" />
<rect x="364.60" y="415.90" width="11.00" height="17.40" fill="#2fa5dd" />
<rect x="377.02" y="418.00" width="11.00" height="15.30" fill="#2fa5dd" />
<rect x="389.44" y="422.00" width="11.00" height="11.30" fill="#2fa5dd" />
<rect x="401.86" y="428.90" width="11.00" height="4.40" fill="#2fa5dd" />
<rect x="414.28" y="429.80" width="11.00" height="3.50" fill="#2fa5dd" />
<rect x="426.70" y="432.20" width="11.00" height="1.10" fill="#2fa5dd" />
<rect x="439.12" y="429.60" width="11.00" height="3.70" fill="#2fa5dd" />
<rect x="451.54" y="432.20" width="11.00" height="1.10" fill="#2fa5dd" />
<rect x="463.96" y="432.40" width="11.00" height="0.90" fill="#2fa5dd" />
<rect x="476.38" y="432.60" width="11.00" height="0.70" fill="#2fa5dd" />
<rect x="488.80" y="432.40" width="11.00" height="0.90" fill="#2fa5dd" />
<line x1="295.45" y1="281.80" x2="295.45" y2="433.80" stroke="#1a1a1a" stroke-width="1.15" />
<line x1="294.95" y1="433.30" x2="502.10" y2="433.30" stroke="#1a1a1a" stroke-width="1.15" />
<line x1="292.45" y1="433.30" x2="295.45" y2="433.30" stroke="#1a1a1a" stroke-width="0.9" />
<text x="289.65" y="435.70" font-size="6.9" fill="#333333" stroke="#333333" stroke-width="0.15" text-anchor="end" >0</text>
<line x1="292.45" y1="383.55" x2="295.45" y2="383.55" stroke="#1a1a1a" stroke-width="0.9" />
<text x="289.65" y="385.95" font-size="6.9" fill="#333333" stroke="#333333" stroke-width="0.15" text-anchor="end" >100</text>
<line x1="292.45" y1="333.80" x2="295.45" y2="333.80" stroke="#1a1a1a" stroke-width="0.9" />
<text x="289.65" y="336.20" font-size="6.9" fill="#333333" stroke="#333333" stroke-width="0.15" text-anchor="end" >200</text>
<line x1="292.45" y1="284.05" x2="295.45" y2="284.05" stroke="#1a1a1a" stroke-width="0.9" />
<text x="289.65" y="286.45" font-size="6.9" fill="#333333" stroke="#333333" stroke-width="0.15" text-anchor="end" >300</text>
<line x1="308.00" y1="433.30" x2="308.00" y2="436.30" stroke="#1a1a1a" stroke-width="0.9" />
<text x="308.00" y="445.60" font-size="6.4" fill="#333333" stroke="#333333" stroke-width="0.15" text-anchor="middle" >0</text>
<line x1="320.42" y1="433.30" x2="320.42" y2="436.30" stroke="#1a1a1a" stroke-width="0.9" />
<text x="320.42" y="445.60" font-size="6.4" fill="#333333" stroke="#333333" stroke-width="0.15" text-anchor="middle" >1</text>
<line x1="332.84" y1="433.30" x2="332.84" y2="436.30" stroke="#1a1a1a" stroke-width="0.9" />
<text x="332.84" y="445.60" font-size="6.4" fill="#333333" stroke="#333333" stroke-width="0.15" text-anchor="middle" >2</text>
<line x1="345.26" y1="433.30" x2="345.26" y2="436.30" stroke="#1a1a1a" stroke-width="0.9" />
<text x="345.26" y="445.60" font-size="6.4" fill="#333333" stroke="#333333" stroke-width="0.15" text-anchor="middle" >3</text>
<line x1="357.68" y1="433.30" x2="357.68" y2="436.30" stroke="#1a1a1a" stroke-width="0.9" />
<text x="357.68" y="445.60" font-size="6.4" fill="#333333" stroke="#333333" stroke-width="0.15" text-anchor="middle" >4</text>
<line x1="370.10" y1="433.30" x2="370.10" y2="436.30" stroke="#1a1a1a" stroke-width="0.9" />
<text x="370.10" y="445.60" font-size="6.4" fill="#333333" stroke="#333333" stroke-width="0.15" text-anchor="middle" >5</text>
<line x1="382.52" y1="433.30" x2="382.52" y2="436.30" stroke="#1a1a1a" stroke-width="0.9" />
<text x="382.52" y="445.60" font-size="6.4" fill="#333333" stroke="#333333" stroke-width="0.15" text-anchor="middle" >6</text>
<line x1="394.94" y1="433.30" x2="394.94" y2="436.30" stroke="#1a1a1a" stroke-width="0.9" />
<text x="394.94" y="445.60" font-size="6.4" fill="#333333" stroke="#333333" stroke-width="0.15" text-anchor="middle" >7</text>
<line x1="407.36" y1="433.30" x2="407.36" y2="436.30" stroke="#1a1a1a" stroke-width="0.9" />
<text x="407.36" y="445.60" font-size="6.4" fill="#333333" stroke="#333333" stroke-width="0.15" text-anchor="middle" >8</text>
<line x1="419.78" y1="433.30" x2="419.78" y2="436.30" stroke="#1a1a1a" stroke-width="0.9" />
<text x="419.78" y="445.60" font-size="6.4" fill="#333333" stroke="#333333" stroke-width="0.15" text-anchor="middle" >9</text>
<line x1="432.20" y1="433.30" x2="432.20" y2="436.30" stroke="#1a1a1a" stroke-width="0.9" />
<text x="432.20" y="445.60" font-size="6.4" fill="#333333" stroke="#333333" stroke-width="0.15" text-anchor="middle" >10</text>
<line x1="444.62" y1="433.30" x2="444.62" y2="436.30" stroke="#1a1a1a" stroke-width="0.9" />
<text x="444.62" y="445.60" font-size="6.4" fill="#333333" stroke="#333333" stroke-width="0.15" text-anchor="middle" >11</text>
<line x1="457.04" y1="433.30" x2="457.04" y2="436.30" stroke="#1a1a1a" stroke-width="0.9" />
<text x="457.04" y="445.60" font-size="6.4" fill="#333333" stroke="#333333" stroke-width="0.15" text-anchor="middle" >12</text>
<line x1="469.46" y1="433.30" x2="469.46" y2="436.30" stroke="#1a1a1a" stroke-width="0.9" />
<text x="469.46" y="445.60" font-size="6.4" fill="#333333" stroke="#333333" stroke-width="0.15" text-anchor="middle" >13</text>
<line x1="481.88" y1="433.30" x2="481.88" y2="436.30" stroke="#1a1a1a" stroke-width="0.9" />
<text x="481.88" y="445.60" font-size="6.4" fill="#333333" stroke="#333333" stroke-width="0.15" text-anchor="middle" >14</text>
<line x1="494.30" y1="433.30" x2="494.30" y2="436.30" stroke="#1a1a1a" stroke-width="0.9" />
<text x="494.30" y="445.60" font-size="6.4" fill="#333333" stroke="#333333" stroke-width="0.15" text-anchor="middle" >15</text>
<line x1="363.89" y1="286.00" x2="363.89" y2="433.30" stroke="#222" stroke-width="0.9" stroke-dasharray="3.2 2.4"/>
<text x="398.80" y="276.60" font-size="8.5" fill="#222" stroke="#222" stroke-width="0.15" text-anchor="middle" >Symptom score</text>
<text x="399.40" y="345.80" font-size="6.5" fill="#333333" stroke="#333333" stroke-width="0.15" text-anchor="middle" >score ≥5 in 14%</text>
<text x="399.40" y="352.80" font-size="6.5" fill="#333333" stroke="#333333" stroke-width="0.15" text-anchor="middle" >(<tspan font-style="italic">n</tspan> = 114/818)</text>
<text x="0" y="0" font-size="8.6" fill="#222" stroke="#222" stroke-width="0.2" text-anchor="middle" transform="translate(272.30 357.5) rotate(-90) scale(0.64 1)">Count</text>
<rect x="0.5" y="0.5" width="519" height="453" fill="none" stroke="#555555" stroke-width="1"/>
</svg>
</body></html>
